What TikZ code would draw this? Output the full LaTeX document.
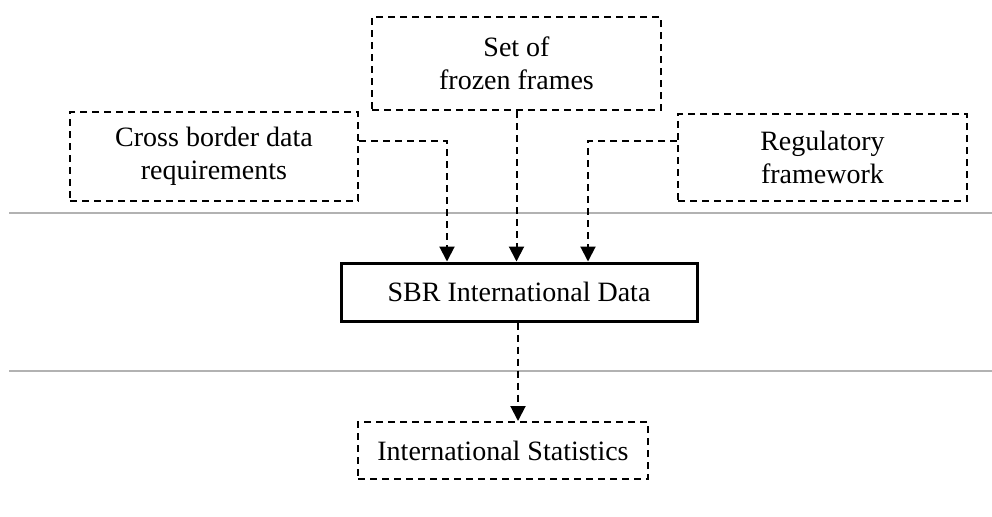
\documentclass[tikz,border=0pt]{standalone}
\usepackage{fontspec}
\setmainfont{Liberation Serif}
\usetikzlibrary{arrows.meta}
\begin{document}
\begin{tikzpicture}[x=0.5pt,y=-0.5pt,
  dbox/.style={draw=black,line width=1pt,dash pattern=on 3.5pt off 2.5pt,
    align=center,inner sep=0pt,font=\fontsize{14}{16.5}\selectfont},
  sbox/.style={draw=black,line width=1.5pt,align=center,inner sep=0pt,
    font=\fontsize{14}{16.5}\selectfont},
  arr/.style={draw=black,line width=1pt,dash pattern=on 3.5pt off 2.5pt,
    -{Triangle[width=7.5pt,length=7.5pt]}},
  sep/.style={draw=black!30,line width=0.8pt}]
\fill[white] (0,0) rectangle (992,516);
\useasboundingbox (0,0) rectangle (992,516);
\draw[sep] (9,213) -- (992,213);
\draw[sep] (9,371) -- (992,371);
\node[dbox,minimum width=144pt,minimum height=44.5pt] (cross) at (214,156.5) {Cross border data\\requirements};
\node[dbox,minimum width=144.5pt,minimum height=46.5pt] (frozen) at (516.5,63.5) {Set of\\frozen frames};
\node[dbox,minimum width=144.5pt,minimum height=43.5pt] (reg) at (822.5,157.5) {Regulatory\\framework};
\node[sbox,minimum width=178pt,minimum height=29pt] (sbr) at (519,292) {SBR International Data};
\node[dbox,minimum width=145pt,minimum height=28.5pt] (ist) at (503,450.5) {International Statistics};
\coordinate (c1) at (447,141);
\coordinate (c3) at (588,141);
\draw[arr] (cross.east |- c1) -- (c1) -- (c1 |- sbr.north);
\draw[arr] (frozen.south) -- (frozen.south |- sbr.north);
\draw[arr] (reg.west |- c3) -- (c3) -- (c3 |- sbr.north);
\coordinate (c4) at (518,0);
\draw[arr] (c4 |- sbr.south) -- (c4 |- ist.north);
\end{tikzpicture}
\end{document}
